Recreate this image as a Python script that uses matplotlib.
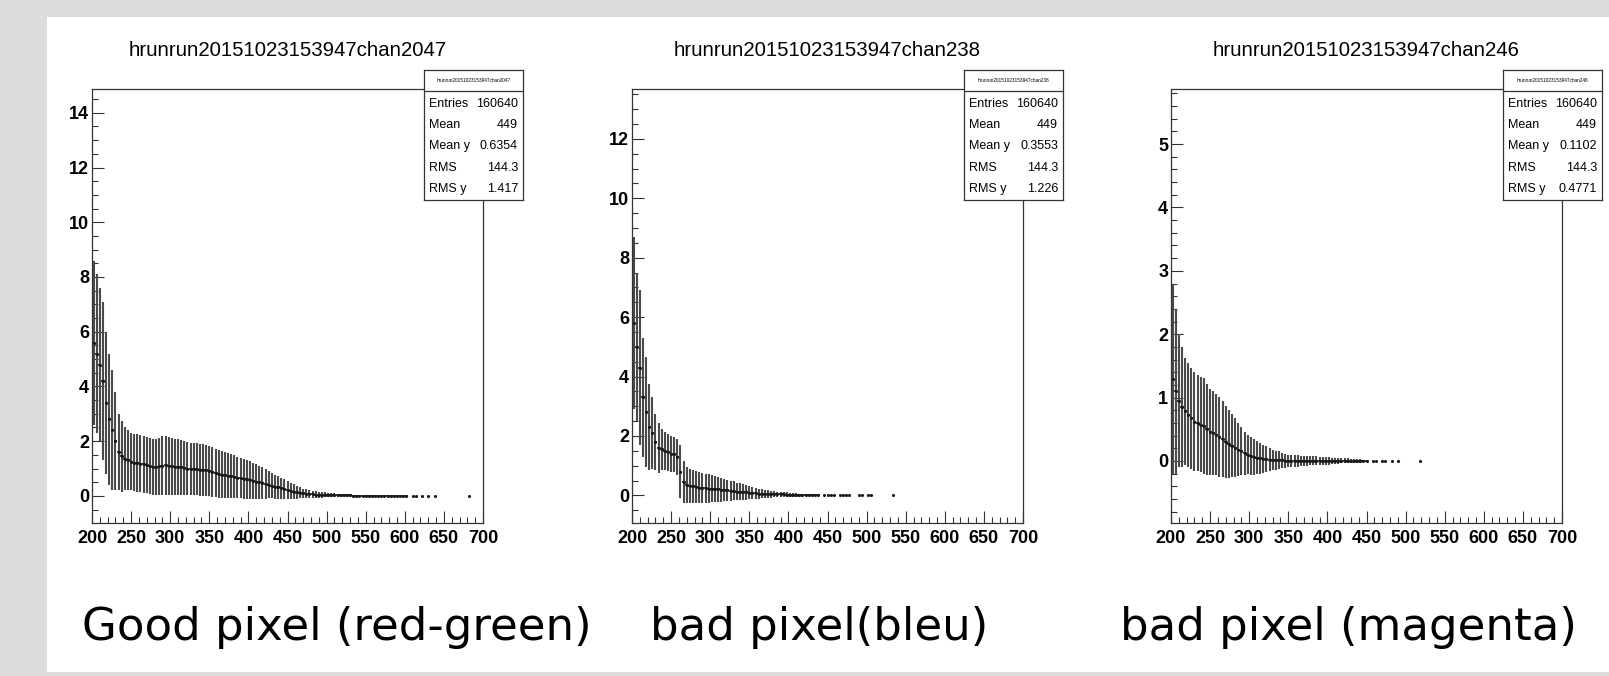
import numpy as np
import matplotlib
matplotlib.use("Agg")
from matplotlib import pyplot as plt
from matplotlib.patches import Rectangle
from matplotlib.ticker import MultipleLocator

# profile data, bins of width 4 starting at 200 (centre 202, 206, ...)
mean_2047 = [5.6, 5.2, 4.8, 4.2, 3.4, 2.8, 2.4, 2.0, 1.6, 1.45,
             1.35, 1.3, 1.25, 1.22, 1.2, 1.18, 1.15, 1.12, 1.08, 1.05, 1.06, 1.08, 1.1, 1.12, 1.1,
             1.08, 1.06, 1.05, 1.04, 1.02, 1.0, 0.99, 0.98, 0.97, 0.96, 0.95, 0.93, 0.9, 0.87, 0.84,
             0.81, 0.78, 0.76, 0.74, 0.72, 0.7, 0.67, 0.65, 0.62, 0.6,
             0.58, 0.55, 0.52, 0.5, 0.47, 0.44, 0.41, 0.38, 0.34, 0.31, 0.28, 0.25, 0.22, 0.19, 0.16,
             0.13, 0.11, 0.09, 0.08, 0.07, 0.06, 0.05, 0.05, 0.04, 0.04,
             0.03, 0.03, 0.03, 0.02, 0.02, 0.02, 0.02, 0.02, 0.01, 0.01, 0.01, 0.01, 0.01, 0.01, 0.01,
             0.0, 0.0, 0.0, 0.0, 0.0, 0.0, 0.0, 0.0, 0.0, 0.0, 0.0]
err_2047 = [3.0, 2.9, 2.8, 2.9, 2.6, 2.4, 2.2, 1.8, 1.4, 1.3,
            1.15, 1.1, 1.05, 1.05, 1.05, 1.05, 1.05, 1.03, 1.02, 1.02, 1.02, 1.05, 1.08, 1.08, 1.06,
            1.05, 1.03, 1.02, 1.0, 0.98, 0.97, 0.96, 0.95, 0.95, 0.95, 0.94, 0.93, 0.92, 0.9, 0.88,
            0.87, 0.85, 0.84, 0.82, 0.8, 0.78, 0.76, 0.74, 0.72, 0.7,
            0.68, 0.66, 0.63, 0.6, 0.57, 0.54, 0.5, 0.47, 0.44, 0.41, 0.38, 0.35, 0.32, 0.29, 0.26,
            0.23, 0.2, 0.18, 0.16, 0.14, 0.13, 0.12, 0.11, 0.1, 0.09,
            0.08, 0.07, 0.07, 0.06, 0.06, 0.05, 0.05, 0.05, 0.04, 0.04, 0.04, 0.04, 0.03, 0.03, 0.03,
            0.03, 0.03, 0.02, 0.02, 0.02, 0.02, 0.02, 0.02, 0.01, 0.01, 0.01]
tail_2047 = [610, 614, 622, 630, 638, 682]

mean_238 = [5.8, 5.0, 4.3, 3.3, 2.8, 2.3, 2.1, 1.8, 1.6, 1.55,
            1.5, 1.45, 1.4, 1.38, 1.3, 0.8, 0.45, 0.35,
            0.32, 0.3, 0.28, 0.26, 0.25, 0.24, 0.23,
            0.22, 0.21, 0.2, 0.19, 0.18, 0.17, 0.16, 0.15, 0.13, 0.12, 0.11, 0.1, 0.09,
            0.08, 0.07, 0.06, 0.06, 0.05, 0.05, 0.04, 0.04, 0.03, 0.03, 0.03, 0.02,
            0.02, 0.02, 0.02, 0.01, 0.01, 0.01, 0.01, 0.01, 0.0, 0.0]
err_238 = [2.9, 2.5, 2.6, 2.0, 1.85, 1.45, 1.2, 0.95, 0.85, 0.7,
           0.65, 0.62, 0.6, 0.6, 0.6, 0.9, 0.7, 0.6,
           0.58, 0.56, 0.54, 0.52, 0.5, 0.49, 0.48,
           0.45, 0.43, 0.42, 0.4, 0.38, 0.36, 0.34, 0.32, 0.3, 0.28, 0.26, 0.24, 0.22,
           0.2, 0.18, 0.17, 0.15, 0.14, 0.13, 0.12, 0.11, 0.1, 0.09, 0.08, 0.08,
           0.07, 0.06, 0.06, 0.05, 0.05, 0.04, 0.04, 0.03, 0.03, 0.02]
tail_238 = [446, 450, 454, 458, 466, 470, 474, 478, 490, 494, 502, 506, 534]

mean_246 = [1.3, 1.1, 0.95, 0.85, 0.78, 0.72, 0.67, 0.62, 0.6, 0.57,
            0.55, 0.5, 0.46, 0.44, 0.41, 0.38, 0.34, 0.3, 0.27, 0.24, 0.21, 0.18, 0.15, 0.12, 0.1,
            0.08, 0.06, 0.05, 0.04, 0.03, 0.03, 0.02, 0.02, 0.01, 0.01, 0.01, 0.0, 0.0,
            0.0, 0.0, 0.0, 0.0, 0.0, 0.0, 0.0, 0.0, 0.0, 0.0, 0.0, 0.0,
            0.0, 0.0, 0.0, 0.0, 0.0, 0.0, 0.0, 0.0, 0.0, 0.0, 0.0, 0.0, 0.0]
err_246 = [1.5, 1.3, 1.05, 0.95, 0.85, 0.82, 0.8, 0.78, 0.76, 0.75,
           0.76, 0.72, 0.68, 0.66, 0.64, 0.63, 0.6, 0.57, 0.54, 0.5, 0.46, 0.42, 0.38, 0.34, 0.31,
           0.3, 0.28, 0.26, 0.24, 0.22, 0.2, 0.18, 0.16, 0.15, 0.14, 0.12, 0.11, 0.1,
           0.1, 0.09, 0.09, 0.08, 0.08, 0.08, 0.07, 0.07, 0.07, 0.06, 0.06, 0.06,
           0.06, 0.05, 0.05, 0.05, 0.04, 0.04, 0.04, 0.03, 0.03, 0.03, 0.03, 0.02, 0.02]
tail_246 = [458, 462, 470, 474, 482, 490, 518]

titles = ["hrunrun20151023153947chan2047", "hrunrun20151023153947chan238",
          "hrunrun20151023153947chan246"]
stat_names = ["Entries", "Mean", "Mean y", "RMS", "RMS y"]
stat_2047 = ["160640", "449", "0.6354", "144.3", "1.417"]
stat_238 = ["160640", "449", "0.3553", "144.3", "1.226"]
stat_246 = ["160640", "449", "0.1102", "144.3", "0.4771"]
captions = ["Good pixel (red-green)", "bad pixel(bleu)", "bad pixel (magenta)"]

W, H = 1609, 676
fig = plt.figure(figsize=(W / 100, H / 100), dpi=100)
fig.patch.set_facecolor("#dddddd")
fig.patches.append(Rectangle((47 / W, 1 - 672 / H), (W - 47) / W, (672 - 17) / H,
                             transform=fig.transFigure, facecolor="white", edgecolor="none",
                             zorder=-10))

root_font = "Liberation Sans"


def rect(l, t, r, b):
    return [l / W, 1 - b / H, (r - l) / W, (b - t) / H]


panels = [
    (mean_2047, err_2047, tail_2047, stat_2047, (92, 483), (-0.99, 14.87), 2, 0.5),
    (mean_238, err_238, tail_238, stat_238, (632, 1023), (-0.93, 13.68), 2, 0.5),
    (mean_246, err_246, tail_246, stat_246, (1171, 1562), (-0.98, 5.87), 1, 0.2),
]

cap_x = [82, 650, 1120]

for i, (m, e, tail, stats, (l, r), ylim, major, minor) in enumerate(panels):
    ax = fig.add_axes(rect(l, 89, r, 523))
    x = 202 + 4 * np.arange(len(m))
    ax.errorbar(x, m, yerr=e, fmt="none", ecolor="#4a4a4a", elinewidth=1.5, capsize=0)
    ax.errorbar(x, m, xerr=2, fmt=".", ms=2.5, color="#1a1a1a", elinewidth=1.2, capsize=0)
    ax.plot(tail, np.zeros(len(tail)), ".", ms=2.5, color="#1a1a1a")
    ax.set_xlim(200, 700)
    ax.set_ylim(*ylim)
    ax.xaxis.set_major_locator(MultipleLocator(50))
    ax.xaxis.set_minor_locator(MultipleLocator(10))
    ax.yaxis.set_major_locator(MultipleLocator(major))
    ax.yaxis.set_minor_locator(MultipleLocator(minor))
    ax.tick_params(which="both", direction="in", top=False, right=False, color="#333333")
    ax.tick_params(which="major", length=8.5, width=0.8)
    ax.tick_params(axis="x", which="major", pad=5)
    ax.tick_params(axis="y", which="major", pad=2)
    ax.tick_params(which="minor", length=4.5, width=0.8)
    for lab in ax.get_xticklabels() + ax.get_yticklabels():
        lab.set_fontfamily(root_font)
        lab.set_fontweight("bold")
        lab.set_fontsize(13)
    for sp in ax.spines.values():
        sp.set_color("#333333")
        sp.set_linewidth(0.9)

    # title
    fig.text((l + r) / 2 / W, 1 - 51 / H, titles[i], ha="center", va="center",
             fontsize=14.7, family=root_font)

    # stats box
    bx = fig.add_axes(rect(r - 59, 70, r + 40, 200))
    bx.set_xlim(0, 99)
    bx.set_ylim(130, 0)
    bx.set_xticks([])
    bx.set_yticks([])
    bx.set_facecolor("white")
    for sp in bx.spines.values():
        sp.set_color("#333333")
        sp.set_linewidth(0.9)
    bx.axhline(21, color="#333333", lw=0.9)
    bx.text(49.5, 10.5, titles[i], ha="center", va="center", fontsize=3.4, family=root_font)
    for k, (nm, val) in enumerate(zip(stat_names, stats)):
        yy = 34 + 21.2 * k
        bx.text(5, yy, nm, ha="left", va="center", fontsize=9, family=root_font)
        bx.text(94, yy, val, ha="right", va="center", fontsize=9, family=root_font)

    fig.text(cap_x[i] / W, 1 - 640 / H, captions[i], ha="left", va="baseline",
             fontsize=32.4, family="DejaVu Sans")

fig.savefig("out.png", dpi=100, facecolor=fig.get_facecolor())
